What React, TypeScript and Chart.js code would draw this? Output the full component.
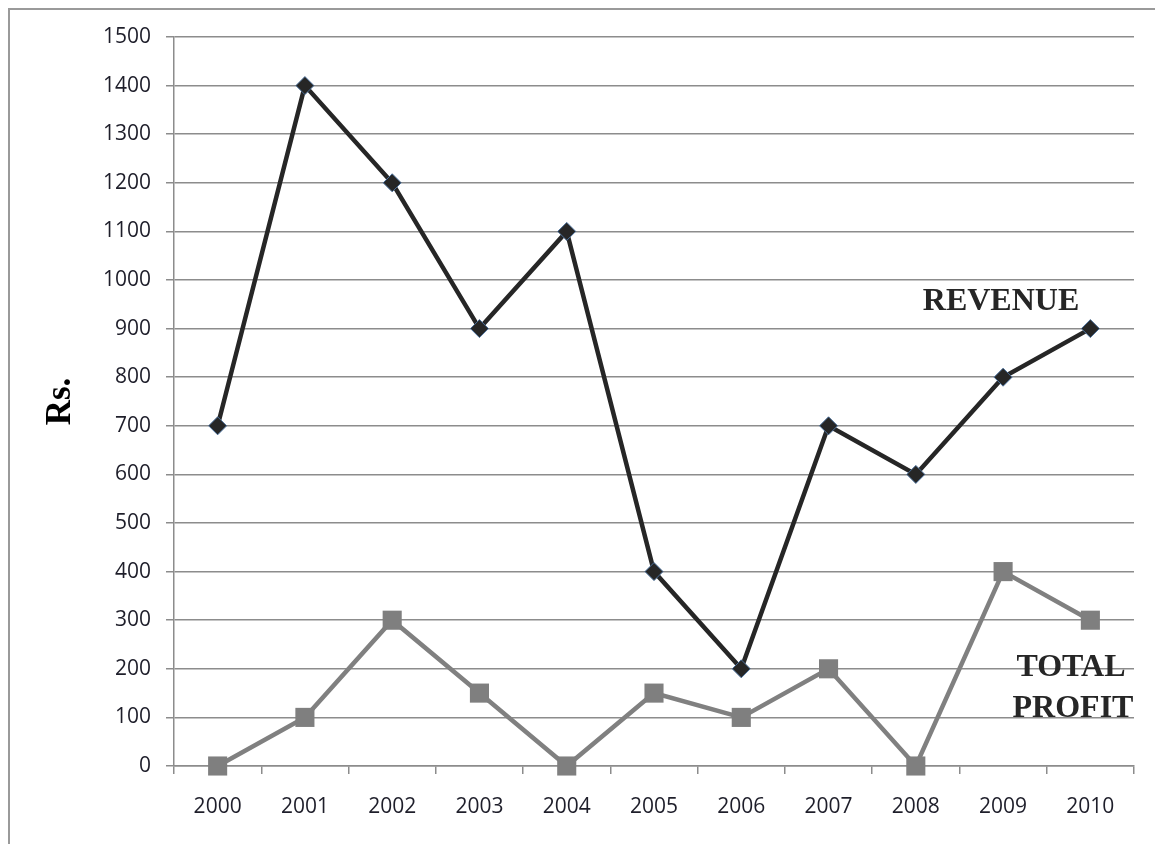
import React, { useEffect, useRef } from "react";
import { Chart, registerables } from "chart.js";

Chart.register(...registerables);

const years = ["2000", "2001", "2002", "2003", "2004", "2005", "2006", "2007", "2008", "2009", "2010"];
const revenue = [700, 1400, 1200, 900, 1100, 400, 200, 700, 600, 800, 900];
const totalProfit = [0, 100, 300, 150, 0, 150, 100, 200, 0, 400, 300];

const GRID = "#8c8c8c";

const framePlugin = {
  id: "frame",
  beforeDraw(chart: any) {
    const ctx = chart.ctx;
    ctx.save();
    ctx.fillStyle = "#ffffff";
    ctx.fillRect(0, 0, chart.width, chart.height);
    ctx.strokeStyle = "#9a9a9a";
    ctx.lineWidth = 2;
    ctx.beginPath();
    ctx.moveTo(9, chart.height + 5);
    ctx.lineTo(9, 9);
    ctx.lineTo(chart.width + 5, 9);
    ctx.stroke();
    ctx.restore();
  },
  afterDatasetsDraw(chart: any) {
    const ctx = chart.ctx;
    ctx.save();
    ctx.fillStyle = "#262626";
    ctx.textAlign = "center";
    ctx.textBaseline = "middle";
    ctx.font = "bold 32px 'Liberation Serif'";
    ctx.fillText("REVENUE", 1001, 302);
    ctx.fillText("TOTAL", 1071, 668);
    ctx.fillText("PROFIT", 1073, 709);
    ctx.restore();
  },
};

export default function App() {
  const ref = useRef<HTMLCanvasElement>(null);
  useEffect(() => {
    if (!ref.current) return;
    const chart = new Chart(ref.current, {
      type: "line",
      data: {
        labels: years,
        datasets: [
          {
            label: "REVENUE",
            data: revenue,
            borderColor: "#262626",
            borderWidth: 4.5,
            pointStyle: "rectRot",
            pointRadius: 9,
            pointBackgroundColor: "#262626",
            pointBorderColor: "#4a6f9a",
            pointBorderWidth: 1,
            tension: 0,
            clip: false,
          },
          {
            label: "TOTAL PROFIT",
            data: totalProfit,
            borderColor: "#808080",
            borderWidth: 4.5,
            pointStyle: "rect",
            pointRadius: 13.5,
            pointBackgroundColor: "#7f7f7f",
            pointBorderColor: "#7f7f7f",
            pointBorderWidth: 0,
            tension: 0,
            clip: false,
          },
        ],
      },
      options: {
        responsive: false,
        animation: false,
        devicePixelRatio: 1,
        layout: { padding: { top: 37, right: 21, left: 0, bottom: 0 } },
        plugins: {
          legend: { display: false },
          tooltip: { enabled: false },
        },
        scales: {
          x: {
            offset: true,
            afterFit: (s: any) => {
              s.height = 78;
            },
            grid: {
              offset: true,
              drawOnChartArea: false,
              drawTicks: true,
              tickLength: 8,
              color: GRID,
              lineWidth: 1.5,
            },
            border: { color: GRID, width: 1.5 },
            ticks: {
              color: "#1e1e2a",
              font: { family: "'Open Sans'", size: 21 },
              padding: 20,
              maxRotation: 0,
              autoSkip: false,
            },
          },
          y: {
            min: 0,
            max: 1500,
            afterFit: (s: any) => {
              s.width = 174;
            },
            grid: {
              color: GRID,
              lineWidth: 1.5,
              tickLength: 8,
            },
            border: { color: GRID, width: 1.5 },
            ticks: {
              stepSize: 100,
              color: "#1e1e2a",
              font: { family: "'Open Sans'", size: 21 },
              padding: 15,
              callback: (v: any) => String(v),
            },
            title: {
              display: true,
              text: "Rs.",
              color: "#000000",
              font: { family: "'Liberation Serif'", size: 35, weight: "bold" },
              padding: { top: 40, bottom: 0 },
            },
          },
        },
      },
      plugins: [framePlugin],
    });
    return () => chart.destroy();
  }, []);
  return (
    <div style={{ position: "fixed", left: 0, top: 0, width: 1155, height: 844 }}>
      <canvas ref={ref} width={1155} height={844} style={{ display: "block" }} />
    </div>
  );
}
